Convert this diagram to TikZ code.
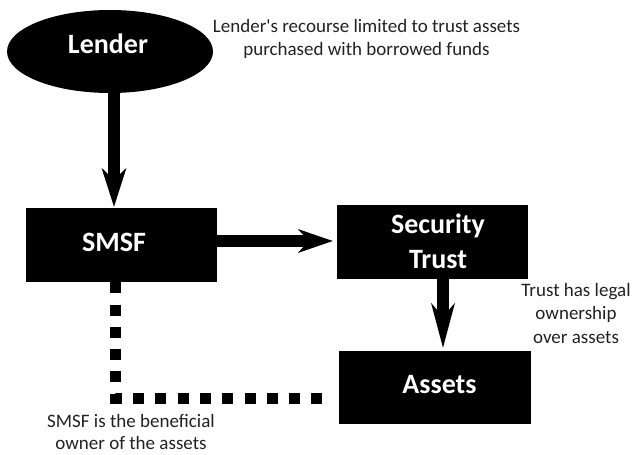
\documentclass[tikz,border=0pt]{standalone}
\usepackage{fontspec}
\setmainfont{Carlito}[Ligatures=TeXOff]
\usetikzlibrary{arrows.meta,shapes.geometric}
\definecolor{notegray}{RGB}{34,34,34}

\begin{document}
\begin{tikzpicture}[x=1pt,y=-1pt,
  box/.style={fill=black, draw=none, minimum width=191pt, minimum height=74pt, inner sep=0pt},
  title/.style={text=white, font=\fontsize{28}{35}\selectfont\bfseries, inner sep=0pt, align=center},
  note/.style={text=notegray, font=\fontsize{19}{23.5}\selectfont, inner sep=0pt, align=center, anchor=north},
  flow/.style={line width=12pt, draw=black},
  beneficial/.style={line width=11pt, draw=black, dash pattern=on 11pt off 11.3pt}
]
\useasboundingbox (0,0) rectangle (633,455);

% parties
\node[ellipse, fill=black, minimum width=206pt, minimum height=83pt, inner sep=0pt] (lender) at (110,51.5) {};
\node[title] (lendertext) at (108,44) {Lender};

\node[box] (smsf) at (121.5,245) {};
\node[title] (smsftext) at (114,242.5) {SMSF};

\node[box] (trust) at (432.5,242) {};
\node[title] (trusttext) at (438,241.5) {Security\\Trust};

\node[box, minimum width=192pt, minimum height=73pt] (assets) at (435,387.5) {};
\node[title] (assetstext) at (439.5,385) {Assets};

% flows
\draw[flow, -{Stealth[length=39pt,width=25pt,inset=12pt,line width=0pt]}]
  ([xshift=4pt]lender.south) -- ([xshift=-7.5pt,yshift=1pt]smsf.north);
\draw[flow, -{Stealth[length=35pt,width=24pt,inset=11pt,line width=0pt]}]
  ([yshift=4pt]smsf.east) -- ([xshift=-4pt,yshift=1pt]trust.west);
\draw[flow, -{Stealth[length=45pt,width=24pt,inset=14pt,line width=0pt]}]
  ([xshift=10.5pt]trust.south) -- ([xshift=8pt,yshift=3pt]assets.north);

% beneficial ownership
\draw[beneficial] ([xshift=-6.5pt]smsf.south) |- ([xshift=-16pt,yshift=-10.5pt]assets.west);

% notes
\node[note] (recourse) at (366.5,19) {Lender's recourse limited to trust assets\\purchased with borrowed funds};
\node[note] (legal) at (576,283) {Trust has legal\\ownership\\over assets};
\node[note, font=\fontsize{19}{22.5}\selectfont] (benefit) at (131,414) {SMSF is the beneficial\\owner of the assets};
\end{tikzpicture}
\end{document}
